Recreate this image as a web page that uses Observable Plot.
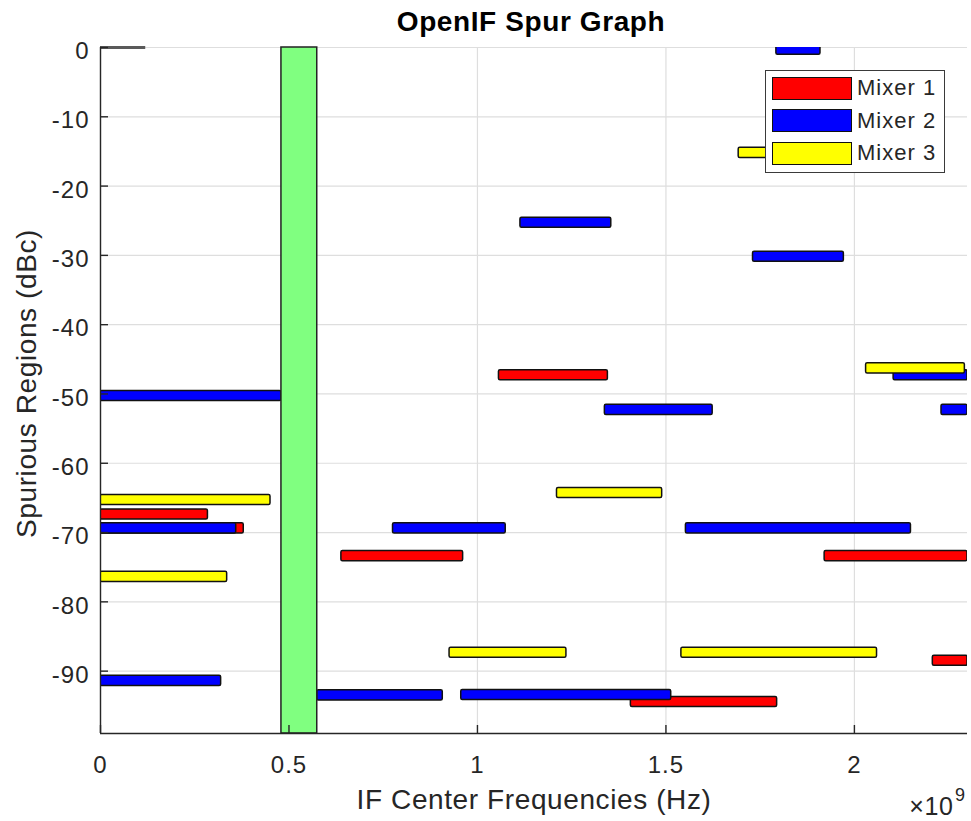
<!DOCTYPE html>
<html><head><meta charset="utf-8">
<script src="https://cdn.jsdelivr.net/npm/d3@7"></script>
<script src="https://cdn.jsdelivr.net/npm/@observablehq/plot@0.6"></script>
<style>
body{margin:0;background:#fff;}
#wrap{position:relative;width:971px;height:821px;font-family:"Liberation Sans",Arial,sans-serif;}
#wrap svg text{letter-spacing:0.6px;}
#wrap svg g[aria-label="x-axis tick label"] text,
#wrap svg g[aria-label="y-axis tick label"] text{letter-spacing:1px;}
#legend{position:absolute;left:765px;top:70px;width:178px;height:101px;background:#fff;border:1.5px solid #3a3a3a;}
.item{position:absolute;left:6px;height:24px;display:flex;align-items:center;}
.sw{width:78px;height:21px;border:1.5px solid #111;margin-right:5px;}
.lab{font-size:22px;letter-spacing:1px;color:#262626;white-space:nowrap;}
</style></head>
<body><div id="wrap"></div>
<script>
// ---- data ----
const seriesNames = ["Mixer 1", "Mixer 2", "Mixer 3"];
const seriesColors = ["#ff0000", "#0000ff", "#ffff00"];

const mixer1Start = [0, 0, 1.057e9, 0.639e9, 1.921e9, 1.407e9, 2.208e9];
const mixer1End   = [0.285e9, 0.38e9, 1.346e9, 0.962e9, 2.30e9, 1.795e9, 2.30e9];
const mixer1Level = [-67.4, -69.4, -47.3, -73.4, -73.4, -94.45, -88.5];

const mixer2Start = [1.793e9, 0, 0, 0, 0.575e9, 0.957e9, 1.114e9, 1.731e9, 1.338e9, 2.104e9, 2.231e9, 0.776e9, 1.553e9];
const mixer2End   = [1.91e9, 0.48e9, 0.36e9, 0.32e9, 0.908e9, 1.514e9, 1.355e9, 1.972e9, 1.624e9, 2.30e9, 2.30e9, 1.075e9, 2.15e9];
const mixer2Level = [-0.3, -50.3, -69.4, -91.4, -93.5, -93.45, -25.3, -30.2, -52.3, -47.3, -52.3, -69.4, -69.4];

const mixer3Start = [0, 0, 1.693e9, 1.211e9, 0.926e9, 1.541e9, 2.031e9];
const mixer3End   = [0.451e9, 0.336e9, 1.85e9, 1.49e9, 1.236e9, 2.06e9, 2.293e9];
const mixer3Level = [-65.3, -76.4, -15.2, -64.3, -87.35, -87.35, -46.3];

const ifBand = [0.48e9, 0.575e9];
const refLineEnd = 0.12e9;   // short grey segment at 0 dBc
const xDomain = [0, 2.3e9];
const yDomain = [-99, 0];
const xTicks = [0, 0.5e9, 1e9, 1.5e9, 2e9];
const xTickLabels = ["0", "0.5", "1", "1.5", "2"];
const yTicks = [0, -10, -20, -30, -40, -50, -60, -70, -80, -90];
const yTickLabels = ["0", "-10", "-20", "-30", "-40", "-50", "-60", "-70", "-80", "-90"];

// ---- build table ----
const starts = [mixer1Start, mixer2Start, mixer3Start];
const ends = [mixer1End, mixer2End, mixer3End];
const levels = [mixer1Level, mixer2Level, mixer3Level];
const bars = [];
seriesNames.forEach((name, s) => {
  levels[s].forEach((lv, i) => bars.push({mixer: name, x1: starts[s][i], x2: ends[s][i], level: lv}));
});

const W = 971, H = 821, mL = 100, mR = 4, mT = 47, mB = 88;
const fw = W - mL - mR, fh = H - mT - mB;
const half = 0.73; // bar half-thickness in dB (style)
const ink = "#262626";

const plot = Plot.plot({
  width: W, height: H,
  marginLeft: mL, marginRight: mR, marginTop: mT, marginBottom: mB,
  x: {domain: xDomain},
  y: {domain: yDomain},
  color: {domain: seriesNames, range: seriesColors},
  style: {fontFamily: "'Liberation Sans', Arial, sans-serif", color: ink, background: "white", overflow: "visible"},
  marks: [
    Plot.gridX(xTicks, {stroke: "#dedede", strokeOpacity: 1, strokeWidth: 1.2}),
    Plot.gridY(yTicks, {stroke: "#dedede", strokeOpacity: 1, strokeWidth: 1.2}),
    Plot.ruleY([0], {x1: 0, x2: refLineEnd, stroke: "#5a5a5a", strokeWidth: 3}),
    Plot.rect(bars, {
      x1: "x1", x2: "x2",
      y1: d => d.level + half, y2: d => d.level - half,
      fill: "mixer", stroke: "#111", strokeWidth: 1.5, rx: 1.5, clip: true
    }),
    Plot.rect([ifBand], {
      x1: d => d[0], x2: d => d[1], y1: yDomain[0], y2: yDomain[1],
      fill: "#80ff80", stroke: "#222", strokeWidth: 1.5
    }),
    Plot.ruleX([xDomain[0]], {stroke: ink, strokeWidth: 1.4}),
    Plot.ruleY([yDomain[0]], {stroke: ink, strokeWidth: 1.4}),
    Plot.tickY(yTicks, {y: d => d, insetRight: fw - 8, stroke: ink, strokeWidth: 1.4}),
    Plot.tickX(xTicks, {x: d => d, insetTop: fh - 8, stroke: ink, strokeWidth: 1.4}),
    Plot.axisX(xTicks, {tickSize: 0, tickPadding: 22, fontSize: 24, label: null,
      tickFormat: d => xTickLabels[xTicks.indexOf(d)]}),
    Plot.axisY(yTicks, {tickSize: 0, tickPadding: 11, fontSize: 24, label: null, dy: 4,
      tickFormat: d => yTickLabels[yTicks.indexOf(d)]}),
    Plot.text(["OpenIF Spur Graph"], {frameAnchor: "top", dx: -3, dy: -25, lineAnchor: "middle",
      fontSize: 28, fontWeight: "bold", fill: "#000"}),
    Plot.text(["IF Center Frequencies (Hz)"], {frameAnchor: "bottom", dy: 67, lineAnchor: "middle",
      fontSize: 28, fill: ink}),
    Plot.text(["Spurious Regions (dBc)"], {frameAnchor: "left", textAnchor: "middle", dx: -73, dy: -7, rotate: -90,
      lineAnchor: "middle", fontSize: 28, fill: ink}),
    Plot.text(["×10"], {frameAnchor: "bottom-right", textAnchor: "end", dx: -14, dy: 73, lineAnchor: "middle",
      fontSize: 25, fill: ink}),
    Plot.text(["9"], {frameAnchor: "bottom-right", textAnchor: "end", dx: -2, dy: 62, lineAnchor: "middle",
      fontSize: 18, fill: ink})
  ]
});

const wrap = document.getElementById("wrap");
wrap.appendChild(plot);

// legend (drawn over the plot, as in the reference)
const legend = document.createElement("div");
legend.id = "legend";
seriesNames.forEach((name, i) => {
  const item = document.createElement("div");
  item.className = "item";
  item.style.top = (5 + i * 32.7) + "px";
  const sw = document.createElement("div");
  sw.className = "sw";
  sw.style.background = seriesColors[i];
  const lab = document.createElement("span");
  lab.className = "lab";
  lab.textContent = name;
  item.appendChild(sw); item.appendChild(lab);
  legend.appendChild(item);
});
wrap.appendChild(legend);
</script>
</body></html>
